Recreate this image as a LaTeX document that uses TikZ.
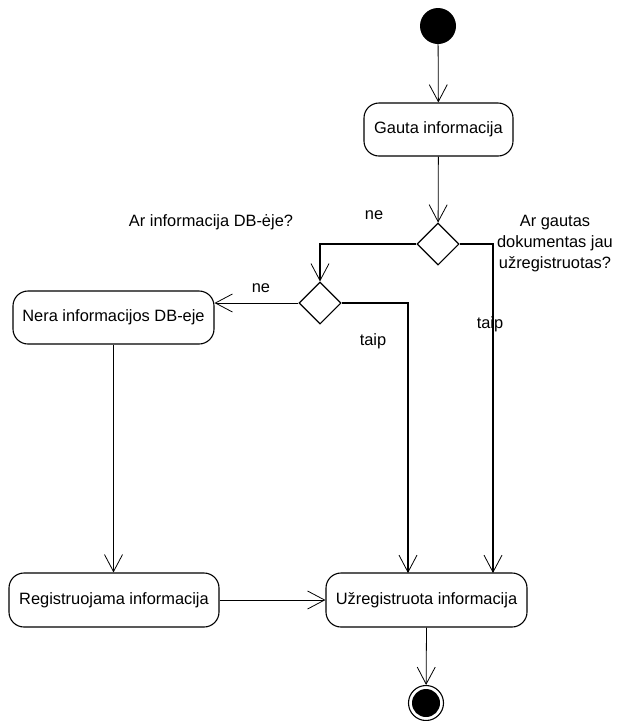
\documentclass[tikz,border=0pt]{standalone}
\usepackage{fontspec}
\setmainfont{Liberation Sans}
\usetikzlibrary{shapes.geometric,arrows.meta}
\begin{document}
\begin{tikzpicture}[x=1pt,y=-1pt,
  every node/.style={font=\fontsize{16.4}{21}\selectfont, inner sep=0pt},
  action/.style={draw, line width=1.1pt, rounded corners=15pt, minimum height=53pt},
  choice/.style={draw, diamond, line width=1.1pt, minimum width=42pt, minimum height=42pt, aspect=1},
  flow/.style={line width=0.8pt, -{Straight Barb[length=17pt,width=18pt,line width=0.8pt]}},
  wire/.style={line width=1.1pt, -{Straight Barb[length=17pt,width=18pt,line width=0.8pt]}},
  note/.style={align=center}]
  \useasboundingbox (0,0) rectangle (617,721);

  % start and end markers
  \node[circle, fill=black, minimum size=36pt] (start) at (438,26) {};
  \node[circle, draw, line width=1.1pt, minimum size=35pt] (fin) at (426,703) {};
  \node[circle, fill=black, minimum size=28pt] (finc) at (426,703) {};

  % actions
  \node[action, minimum width=149pt] (gauta) at (438.5,129.5) {Gauta informacija};
  \node[action, minimum width=201pt] (nera) at (113.5,317.5) {Nera informacijos DB-eje};
  \node[action, minimum width=210pt, minimum height=54pt] (reg) at (114,600) {Registruojama informacija};
  \node[action, minimum width=201pt, minimum height=54pt] (uz) at (426.5,600) {Užregistruota informacija};

  % decisions
  \node[choice] (d1) at (438,244) {};
  \node[choice] (d2) at (320,303) {};

  % entry points on the top edge of the final action
  \coordinate (inL) at (408,573);
  \coordinate (inR) at (493,573);

  % connectors
  \draw[flow] (start) -- (gauta);
  \draw[flow] (gauta) -- (d1);
  \draw[wire] (d1.west) -| (d2.north);
  \draw[wire] (d1.east) -| (inR);
  \draw[flow] (d2.west) -- (d2.west -| nera.east);
  \draw[wire] (d2.east) -| (inL);
  \draw[flow] (nera.south) -- (nera.south |- reg.north);
  \draw[flow] (reg) -- (uz);
  \draw[flow] (uz.south) -- (fin);

  % labels
  \node[note] (q1) at (211,222) {Ar informacija DB-ėje?};
  \node[note] (q2) at (555,244) {Ar gautas\\dokumentas jau\\užregistruotas?};
  \node (ne1) at (374,215) {ne};
  \node (ne2) at (261,288) {ne};
  \node (taip1) at (373,341) {taip};
  \node (taip2) at (490,324) {taip};
\end{tikzpicture}
\end{document}
